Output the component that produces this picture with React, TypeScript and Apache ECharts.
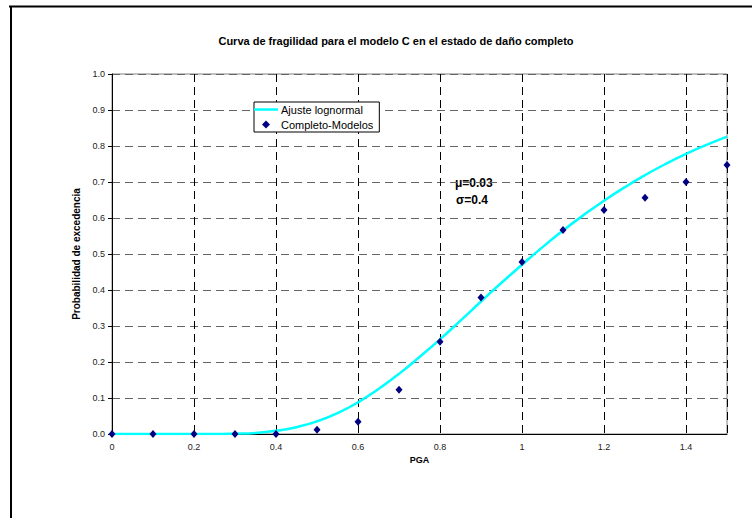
import React, { useEffect, useRef } from "react";
import * as echarts from "echarts";

const TITLE = "Curva de fragilidad para el modelo C en el estado de daño completo";
const X_NAME = "PGA";
const Y_NAME = "Probabilidad de excedencia";
const LINE_NAME = "Ajuste lognormal";
const POINT_NAME = "Completo-Modelos";
const ANNOT = ["μ=0.03", "σ=0.4"];

// Observed points (PGA, probability)
const pointX = [0, 0.1, 0.2, 0.3, 0.4, 0.5, 0.6, 0.7, 0.8, 0.9, 1.0, 1.1, 1.2, 1.3, 1.4, 1.5];
const pointY = [0, 0, 0, 0, 0, 0.012, 0.034, 0.123, 0.256, 0.379, 0.478, 0.567, 0.622, 0.656, 0.7, 0.747];

// Fitted lognormal curve
const curveX = [0, 0.05, 0.1, 0.15, 0.2, 0.25, 0.3, 0.35, 0.4, 0.45, 0.5, 0.55, 0.6, 0.65, 0.7, 0.75, 0.8, 0.85, 0.9, 0.95, 1.0, 1.05, 1.1, 1.15, 1.2, 1.25, 1.3, 1.35, 1.4, 1.45, 1.5];
const curveY = [0, 0, 0, 0, 0, 0, 0.001, 0.003, 0.009, 0.019, 0.035, 0.058, 0.088, 0.125, 0.167, 0.214, 0.263, 0.315, 0.368, 0.42, 0.47, 0.519, 0.565, 0.608, 0.648, 0.685, 0.719, 0.75, 0.778, 0.803, 0.826];

const FONT = "'Liberation Sans', Arial, sans-serif";
const DIAMOND = "path://M5,0 L10,5 L5,10 L0,5 Z";
const LINE_ICON = "path://M0,0 L24,0 L24,2.5 L0,2.5 Z";

export default function App() {
  const ref = useRef<HTMLDivElement>(null);
  useEffect(() => {
    if (!ref.current) return;
    const chart = echarts.init(ref.current, null, { renderer: "svg" });
    chart.setOption({
      animation: false,
      backgroundColor: "#ffffff",
      textStyle: { fontFamily: FONT },
      title: {
        text: TITLE,
        left: 391,
        textAlign: "center",
        top: 30,
        textStyle: { fontFamily: FONT, fontSize: 11, fontWeight: "bold", color: "#000" },
      },
      grid: {
        left: 112,
        right: 25,
        top: 74,
        bottom: 84,
        show: true,
        borderColor: "#808080",
        borderWidth: 1,
        backgroundColor: "transparent",
      },
      legend: {
        orient: "vertical",
        left: 254,
        top: 102,
        padding: [2, 6, 2, 0],
        itemGap: 4,
        itemWidth: 24,
        itemHeight: 8,
        borderColor: "#000",
        borderWidth: 1,
        backgroundColor: "#fff",
        textStyle: { fontFamily: FONT, fontSize: 11, color: "#000", padding: [0, 0, 0, -2] },
        data: [
          { name: LINE_NAME, icon: LINE_ICON },
          { name: POINT_NAME, icon: DIAMOND },
        ],
      },
      xAxis: {
        type: "value",
        min: 0,
        max: 1.5,
        interval: 0.2,
        name: X_NAME,
        nameLocation: "middle",
        nameGap: 20,
        nameTextStyle: { fontFamily: FONT, fontSize: 9, fontWeight: "bold", color: "#000" },
        axisLine: { show: true, onZero: false, lineStyle: { color: "#000", width: 1 } },
        axisTick: { show: false },
        axisLabel: {
          fontFamily: FONT,
          fontSize: 9,
          color: "#222",
          margin: 8,
          showMaxLabel: false,
          formatter: (v: number) => String(Math.round(v * 10) / 10),
        },
        splitLine: { show: true, lineStyle: { type: [8, 5], color: "#000", width: 1 } },
      },
      yAxis: {
        type: "value",
        min: 0,
        max: 1,
        interval: 0.1,
        name: Y_NAME,
        nameLocation: "middle",
        nameGap: 25,
        nameTextStyle: { fontFamily: FONT, fontSize: 10, fontWeight: "bold", color: "#000" },
        axisLine: { show: true, lineStyle: { color: "#000", width: 1 } },
        axisTick: { show: true, length: 4, inside: false, lineStyle: { color: "#000" } },
        axisLabel: {
          fontFamily: FONT,
          fontSize: 9,
          color: "#222",
          margin: 7,
          formatter: (v: number) => v.toFixed(1),
        },
        splitLine: { show: true, lineStyle: { type: [8, 5], color: "#666", width: 1 } },
      },
      series: [
        {
          name: LINE_NAME,
          type: "line",
          data: curveX.map((x, i) => [x, curveY[i]]),
          smooth: true,
          symbol: "none",
          lineStyle: { color: "#00ffff", width: 2.5 },
          itemStyle: { color: "#00ffff" },
          z: 3,
        },
        {
          name: POINT_NAME,
          type: "scatter",
          data: pointX.map((x, i) => [x, pointY[i]]),
          symbol: "diamond",
          symbolSize: [7, 8],
          itemStyle: { color: "#000080", opacity: 1 },
          z: 4,
        },
      ],
      graphic: [
        {
          type: "line",
          shape: { x1: 9, y1: 6.5, x2: 752, y2: 6.5 },
          style: { stroke: "#000", lineWidth: 2 },
        },
        {
          type: "line",
          shape: { x1: 11, y1: 6, x2: 11, y2: 518 },
          style: { stroke: "#000", lineWidth: 2 },
        },
        {
          type: "text",
          left: 455,
          top: 177,
          style: { text: ANNOT[0], fontFamily: FONT, fontSize: 12, fontWeight: "bold", fill: "#000" },
        },
        {
          type: "text",
          left: 456,
          top: 194,
          style: { text: ANNOT[1], fontFamily: FONT, fontSize: 12, fontWeight: "bold", fill: "#000" },
        },
      ],
    });
    return () => chart.dispose();
  }, []);
  return (
    <div
      ref={ref}
      style={{ position: "absolute", left: 0, top: 0, width: 752, height: 518, background: "#fff" }}
    />
  );
}
